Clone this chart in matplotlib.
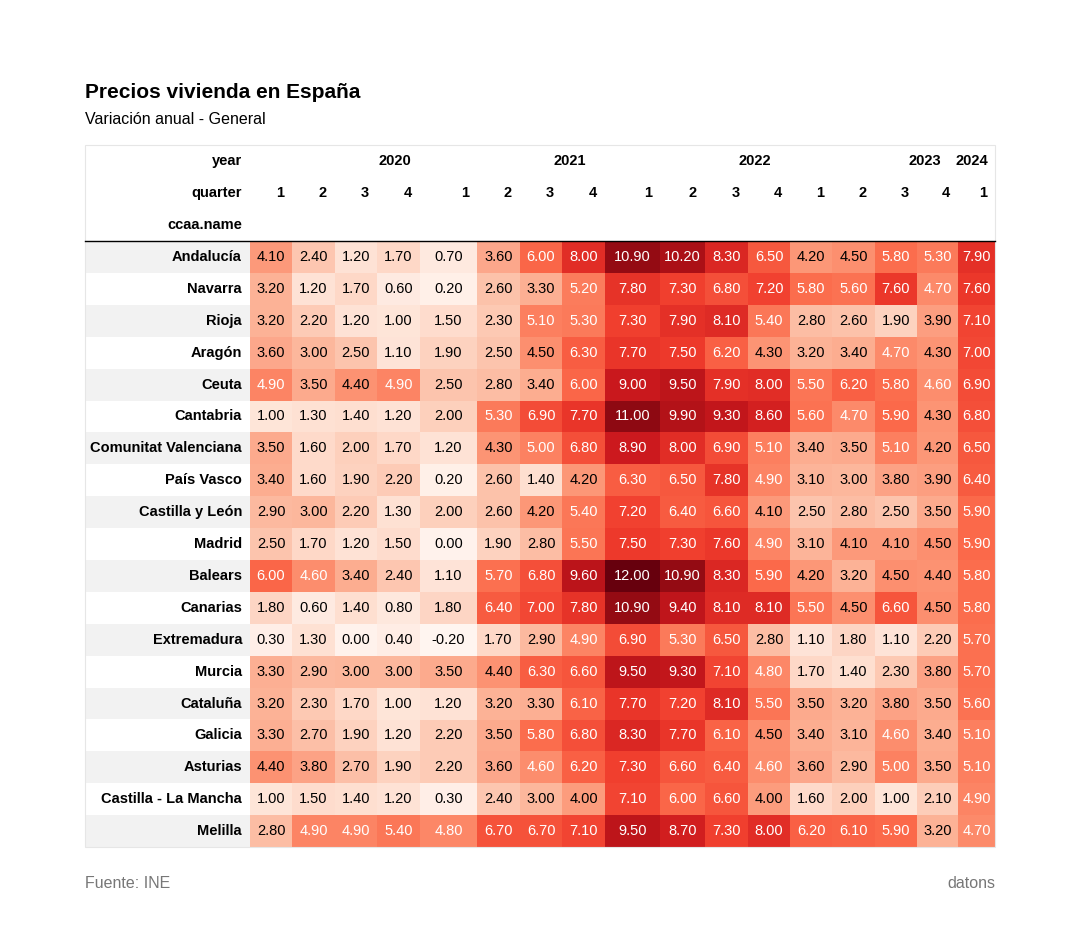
import numpy as np
import matplotlib
matplotlib.use("Agg")
import matplotlib.pyplot as plt
from matplotlib.patches import Rectangle

regions = ["Andalucía", "Navarra", "Rioja", "Aragón", "Ceuta", "Cantabria",
           "Comunitat Valenciana", "País Vasco", "Castilla y León", "Madrid",
           "Balears", "Canarias", "Extremadura", "Murcia", "Cataluña", "Galicia",
           "Asturias", "Castilla - La Mancha", "Melilla"]
years = ["2020", "2021", "2022", "2023", "2024"]
quarters = ["1", "2", "3", "4", "1", "2", "3", "4", "1", "2", "3", "4", "1", "2", "3", "4", "1"]
values = np.array([
    [4.10, 2.40, 1.20, 1.70, 0.70, 3.60, 6.00, 8.00, 10.90, 10.20, 8.30, 6.50, 4.20, 4.50, 5.80, 5.30, 7.90],
    [3.20, 1.20, 1.70, 0.60, 0.20, 2.60, 3.30, 5.20, 7.80, 7.30, 6.80, 7.20, 5.80, 5.60, 7.60, 4.70, 7.60],
    [3.20, 2.20, 1.20, 1.00, 1.50, 2.30, 5.10, 5.30, 7.30, 7.90, 8.10, 5.40, 2.80, 2.60, 1.90, 3.90, 7.10],
    [3.60, 3.00, 2.50, 1.10, 1.90, 2.50, 4.50, 6.30, 7.70, 7.50, 6.20, 4.30, 3.20, 3.40, 4.70, 4.30, 7.00],
    [4.90, 3.50, 4.40, 4.90, 2.50, 2.80, 3.40, 6.00, 9.00, 9.50, 7.90, 8.00, 5.50, 6.20, 5.80, 4.60, 6.90],
    [1.00, 1.30, 1.40, 1.20, 2.00, 5.30, 6.90, 7.70, 11.00, 9.90, 9.30, 8.60, 5.60, 4.70, 5.90, 4.30, 6.80],
    [3.50, 1.60, 2.00, 1.70, 1.20, 4.30, 5.00, 6.80, 8.90, 8.00, 6.90, 5.10, 3.40, 3.50, 5.10, 4.20, 6.50],
    [3.40, 1.60, 1.90, 2.20, 0.20, 2.60, 1.40, 4.20, 6.30, 6.50, 7.80, 4.90, 3.10, 3.00, 3.80, 3.90, 6.40],
    [2.90, 3.00, 2.20, 1.30, 2.00, 2.60, 4.20, 5.40, 7.20, 6.40, 6.60, 4.10, 2.50, 2.80, 2.50, 3.50, 5.90],
    [2.50, 1.70, 1.20, 1.50, 0.00, 1.90, 2.80, 5.50, 7.50, 7.30, 7.60, 4.90, 3.10, 4.10, 4.10, 4.50, 5.90],
    [6.00, 4.60, 3.40, 2.40, 1.10, 5.70, 6.80, 9.60, 12.00, 10.90, 8.30, 5.90, 4.20, 3.20, 4.50, 4.40, 5.80],
    [1.80, 0.60, 1.40, 0.80, 1.80, 6.40, 7.00, 7.80, 10.90, 9.40, 8.10, 8.10, 5.50, 4.50, 6.60, 4.50, 5.80],
    [0.30, 1.30, 0.00, 0.40, -0.20, 1.70, 2.90, 4.90, 6.90, 5.30, 6.50, 2.80, 1.10, 1.80, 1.10, 2.20, 5.70],
    [3.30, 2.90, 3.00, 3.00, 3.50, 4.40, 6.30, 6.60, 9.50, 9.30, 7.10, 4.80, 1.70, 1.40, 2.30, 3.80, 5.70],
    [3.20, 2.30, 1.70, 1.00, 1.20, 3.20, 3.30, 6.10, 7.70, 7.20, 8.10, 5.50, 3.50, 3.20, 3.80, 3.50, 5.60],
    [3.30, 2.70, 1.90, 1.20, 2.20, 3.50, 5.80, 6.80, 8.30, 7.70, 6.10, 4.50, 3.40, 3.10, 4.60, 3.40, 5.10],
    [4.40, 3.80, 2.70, 1.90, 2.20, 3.60, 4.60, 6.20, 7.30, 6.60, 6.40, 4.60, 3.60, 2.90, 5.00, 3.50, 5.10],
    [1.00, 1.50, 1.40, 1.20, 0.30, 2.40, 3.00, 4.00, 7.10, 6.00, 6.60, 4.00, 1.60, 2.00, 1.00, 2.10, 4.90],
    [2.80, 4.90, 4.90, 5.40, 4.80, 6.70, 6.70, 7.10, 9.50, 8.70, 7.30, 8.00, 6.20, 6.10, 5.90, 3.20, 4.70],
])

plt.rcParams["font.family"] = ["Liberation Sans", "DejaVu Sans"]
fig = plt.figure(figsize=(10.8, 9.31), dpi=100)
ax = fig.add_axes([0, 0, 1, 1])
ax.set_xlim(0, 1080)
ax.set_ylim(931, 0)
ax.axis("off")

edges = [85, 250, 292, 335, 377, 420, 477, 520, 562, 605, 660, 705, 748, 790, 832, 875, 917, 958, 995]
top, head_bot, rh = 145, 241, 31.9
cmap = plt.get_cmap("Reds")


def text_color(rgba):
    def lin(c):
        return c / 12.92 if c <= 0.04045 else ((c + 0.055) / 1.055) ** 2.4
    r, g, b = (lin(c) for c in rgba[:3])
    lum = 0.2126 * r + 0.7152 * g + 0.0722 * b
    return "white" if lum < 0.408 else "black"


ax.text(85, 92, "Precios vivienda en España", fontsize=15, fontweight="bold", va="center")
ax.text(85, 119, "Variación anual - General", fontsize=11.5, va="center")

# header
fs = 10.5
ax.text(242, 161, "year", fontsize=fs, fontweight="bold", ha="right", va="center")
ax.text(242, 193, "quarter", fontsize=fs, fontweight="bold", ha="right", va="center")
ax.text(242, 225, "ccaa.name", fontsize=fs, fontweight="bold", ha="right", va="center")
for yr, xc in zip(years, [395, 570, 755, 925, 972]):
    ax.text(xc, 161, yr, fontsize=fs, fontweight="bold", ha="center", va="center")
for j, q in enumerate(quarters):
    ax.text(edges[j + 2] - 8, 193, q, fontsize=fs, fontweight="bold",
            ha="right", va="center")

vmin, vmax = values.min(), values.max()
for i, reg in enumerate(regions):
    y0 = head_bot + i * rh
    if i % 2 == 0:
        ax.add_patch(Rectangle((edges[0], y0), edges[1] - edges[0], rh, color="#f2f2f2", lw=0))
    ax.text(242, y0 + rh / 2, reg, fontsize=fs, fontweight="bold", ha="right", va="center")
    for j in range(values.shape[1]):
        v = values[i, j]
        c = cmap((v - vmin) / (vmax - vmin))
        ax.add_patch(Rectangle((edges[j + 1], y0), edges[j + 2] - edges[j + 1], rh + 0.5,
                               color=c, lw=0))
        ax.text((edges[j + 1] + edges[j + 2]) / 2, y0 + rh / 2, f"{v:.2f}", fontsize=fs,
                ha="center", va="center", color=text_color(c))

bottom = head_bot + len(regions) * rh
ax.add_patch(Rectangle((edges[0], top), edges[-1] - edges[0], bottom - top, fill=False,
                       ec="#e6e6e6", lw=0.8))
ax.plot([edges[0], edges[-1]], [head_bot, head_bot], color="black", lw=1)

ax.text(85, 883, "Fuente: INE", fontsize=11.5, color="#777777", va="center")
ax.text(995, 883, "datons", fontsize=11.5, color="#777777", va="center", ha="right")

fig.savefig("out.png", dpi=100)
